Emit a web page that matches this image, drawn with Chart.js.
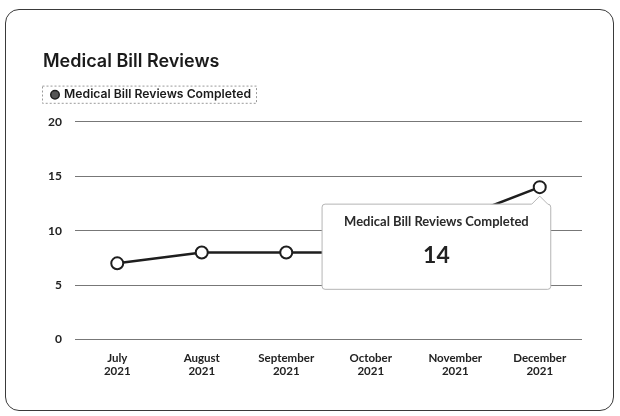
<!DOCTYPE html>
<html>
<head>
<meta charset="utf-8">
<script src="https://cdn.jsdelivr.net/npm/chart.js@4.4.1/dist/chart.umd.min.js"></script>
<style>
  html, body { margin: 0; padding: 0; background: #fff; }
  .card {
    position: absolute; left: 5px; top: 9px; width: 609px; height: 402px;
    border: 1.5px solid #3a3a3a; border-radius: 14px; box-sizing: border-box;
  }
  #wrap { position: absolute; left: 0; top: 0; width: 620px; height: 416px; }
</style>
</head>
<body>
<div class="card"></div>
<div id="wrap"><canvas id="reviewsChart" width="620" height="416"></canvas></div>
<script>
  const months = ['July', 'August', 'September', 'October', 'November', 'December'];
  const year = '2021';
  const reviewsCompleted = [7, 8, 8, 8, 11, 14];
  const seriesName = 'Medical Bill Reviews Completed';

  const labelFont = "'Lato', 'Noto Sans', sans-serif";
  const headFont = "'Inter', 'Noto Sans', sans-serif";

  // dotted frame round the legend item, plus some room under the legend
  const legendFrame = {
    id: 'legendFrame',
    afterInit(chart) {
      const legend = chart.legend;
      const fit = legend.fit.bind(legend);
      legend.fit = function () {
        fit();
        this.height += 11;
      };
    },
    afterDraw(chart) {
      const box = chart.legend.legendHitBoxes[0];
      if (!box) return;
      const ctx = chart.ctx;
      ctx.save();
      ctx.strokeStyle = '#9a9a9a';
      ctx.lineWidth = 1;
      ctx.setLineDash([2, 2]);
      ctx.strokeRect(box.left - 9.5, box.top - 2.5, box.width + 15, box.height + 5);
      ctx.restore();
    }
  };

  const reviewsChart = new Chart(document.getElementById('reviewsChart'), {
    type: 'line',
    data: {
      labels: months.map(m => [m, year]),
      datasets: [{
        label: seriesName,
        data: reviewsCompleted,
        borderColor: '#1e1e1e',
        borderWidth: 2.5,
        backgroundColor: '#555',
        pointBackgroundColor: '#fff',
        pointBorderColor: '#1e1e1e',
        pointBorderWidth: 2,
        pointRadius: 6,
        pointHoverRadius: 6,
        tension: 0
      }]
    },
    options: {
      responsive: false,
      animation: false,
      layout: { padding: { left: 43, right: 38, top: 51, bottom: 26 } },
      plugins: {
        title: {
          display: true,
          text: 'Medical Bill Reviews',
          align: 'start',
          color: '#1a1a1a',
          font: { family: headFont, size: 18, weight: '600' },
          padding: { top: 0, bottom: 7 }
        },
        legend: {
          display: true,
          align: 'start',
          labels: {
            usePointStyle: true,
            pointStyle: 'circle',
            boxWidth: 6,
            boxHeight: 6,
            padding: 9,
            color: '#1a1a1a',
            font: { family: headFont, size: 12.2, weight: '600' },
            generateLabels(chart) {
              const items = Chart.defaults.plugins.legend.labels.generateLabels(chart);
              items.forEach(it => { it.fillStyle = '#555'; it.strokeStyle = '#1e1e1e'; it.lineWidth = 1.5; });
              return items;
            }
          }
        },
        tooltip: {
          enabled: true,
          xAlign: 'right',
          yAlign: 'top',
          backgroundColor: '#fff',
          borderColor: '#b5b5b5',
          borderWidth: 1,
          cornerRadius: 3,
          caretSize: 8,
          caretPadding: 9,
          displayColors: false,
          titleAlign: 'center',
          bodyAlign: 'center',
          titleColor: '#2a2a2a',
          bodyColor: '#222',
          titleFont: { family: labelFont, size: 13, weight: 'bold' },
          bodyFont: { family: labelFont, size: 23, weight: 'bold' },
          titleMarginBottom: 12,
          padding: { left: 22, right: 22, top: 10, bottom: 20 },
          callbacks: {
            title: () => seriesName,
            label: ctx => String(ctx.parsed.y)
          }
        }
      },
      scales: {
        x: {
          offset: true,
          grid: { display: false, drawTicks: false },
          border: { display: false },
          ticks: {
            color: '#222',
            padding: 12,
            maxRotation: 0,
            font: { family: labelFont, size: 11.5, weight: 'bold', lineHeight: 1.15 }
          }
        },
        y: {
          min: 0,
          max: 20,
          afterFit(scale) { scale.width = 32; },
          border: { display: false },
          grid: { color: '#777', lineWidth: 1, drawTicks: false },
          ticks: {
            stepSize: 5,
            padding: 13,
            color: '#222',
            font: { family: labelFont, size: 12, weight: 'bold' }
          }
        }
      }
    },
    plugins: [legendFrame]
  });

  // show the December value in the tooltip
  const last = reviewsCompleted.length - 1;
  const pt = reviewsChart.getDatasetMeta(0).data[last];
  reviewsChart.tooltip.setActiveElements([{ datasetIndex: 0, index: last }], { x: pt.x, y: pt.y });
  reviewsChart.update();
</script>
</body>
</html>
